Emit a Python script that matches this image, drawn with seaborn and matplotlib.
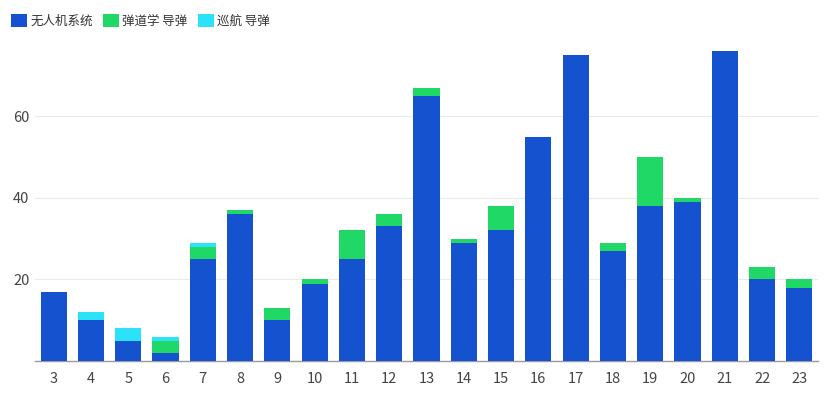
import matplotlib
matplotlib.use("Agg")
import matplotlib.pyplot as plt
import seaborn as sns
import pandas as pd
from matplotlib.patches import Patch

categories = ["3", "4", "5", "6", "7", "8", "9", "10", "11", "12", "13",
              "14", "15", "16", "17", "18", "19", "20", "21", "22", "23"]
uav = [17, 10, 5, 2, 25, 36, 10, 19, 25, 33, 65, 29, 32, 55, 75, 27, 38, 39, 76, 20, 18]
ballistic = [0, 0, 0, 3, 3, 1, 3, 1, 7, 3, 2, 1, 6, 0, 0, 2, 12, 1, 0, 3, 2]
cruise = [0, 2, 3, 1, 1, 0, 0, 0, 0, 0, 0, 0, 0, 0, 0, 0, 0, 0, 0, 0, 0]
series_names = ["无人机系统", "弹道学 导弹", "巡航 导弹"]
colors = ["#1452CF", "#1FD866", "#2BE2F8"]

sns.set_theme(style="white")
plt.rcParams["font.family"] = ["Noto Sans CJK SC", "DejaVu Sans"]

df = pd.DataFrame({"cat": categories, "uav": uav, "bal": ballistic, "cru": cruise})
df["s1"] = df["uav"]
df["s2"] = df["uav"] + df["bal"]
df["s3"] = df["s2"] + df["cru"]

fig = plt.figure(figsize=(8.31, 3.98), dpi=100)
ax = fig.add_axes([35 / 831, 37 / 398, (818 - 35) / 831, (361 - 51) / 398])

for col, c in zip(["s3", "s2", "s1"], colors[::-1]):
    sns.barplot(data=df, x="cat", y=col, order=categories, color=c, width=0.7,
                saturation=1, ax=ax, linewidth=0, zorder=3)

ax.set_ylim(0, 76)
ax.set_xlim(-0.5, len(categories) - 0.5)
ax.set_yticks([20, 40, 60])
ax.yaxis.grid(True, color="#ebebeb", linewidth=0.8, zorder=0)
ax.set_axisbelow(True)
for s in ["top", "right", "left"]:
    ax.spines[s].set_visible(False)
ax.spines["bottom"].set_color("#9a9a9a")
ax.spines["bottom"].set_linewidth(1)
ax.set_xlabel("")
ax.set_ylabel("")
ax.tick_params(axis="x", length=0, pad=8, labelsize=10.5, labelcolor="#444444")
ax.tick_params(axis="y", length=0, pad=4, labelsize=10.5, labelcolor="#444444")

handles = [Patch(facecolor=c, edgecolor="none") for c in colors]
fig.legend(handles, series_names, loc="upper left", bbox_to_anchor=(0.003, 1.0 - 5 / 398),
           ncol=3, frameon=False, fontsize=9.0, handlelength=1.3, handleheight=1.3,
           handletextpad=0.25, columnspacing=0.8, borderaxespad=0.3,
           labelcolor="#333333")

fig.savefig("out.png", dpi=100, facecolor="white")
